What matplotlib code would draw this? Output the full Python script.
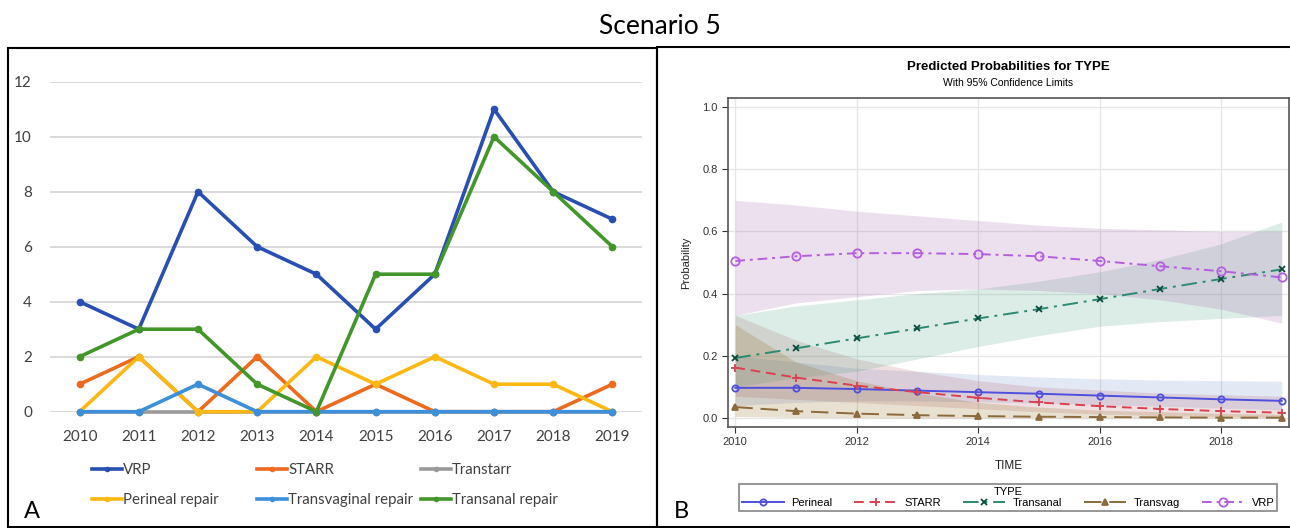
import matplotlib
matplotlib.use("Agg")
import matplotlib.pyplot as plt
from matplotlib.lines import Line2D
from matplotlib.patches import Rectangle

# ---- panel A: yearly counts by procedure ----
years = [2010, 2011, 2012, 2013, 2014, 2015, 2016, 2017, 2018, 2019]
vrp = [4, 3, 8, 6, 5, 3, 5, 11, 8, 7]
starr = [1, 2, 0, 2, 0, 1, 0, 0, 0, 1]
transtarr = [0, 0, 0, 0, 0, 0, 0, 0, 0, 0]
perineal_repair = [0, 2, 0, 0, 2, 1, 2, 1, 1, 0]
transvaginal_repair = [0, 0, 1, 0, 0, 0, 0, 0, 0, 0]
transanal_repair = [2, 3, 3, 1, 0, 5, 5, 10, 8, 6]
count_ticks = [0, 2, 4, 6, 8, 10, 12]

# ---- panel B: predicted probabilities with 95% limits ----
time = [2010, 2011, 2012, 2013, 2014, 2015, 2016, 2017, 2018, 2019]
p_perineal = [0.097, 0.097, 0.093, 0.088, 0.083, 0.078, 0.072, 0.066, 0.060, 0.055]
lo_perineal = [0.040, 0.050, 0.055, 0.055, 0.052, 0.048, 0.043, 0.038, 0.032, 0.026]
hi_perineal = [0.200, 0.180, 0.160, 0.150, 0.140, 0.132, 0.126, 0.122, 0.120, 0.118]
p_starr = [0.162, 0.130, 0.104, 0.083, 0.065, 0.050, 0.038, 0.029, 0.022, 0.017]
lo_starr = [0.070, 0.060, 0.050, 0.040, 0.030, 0.020, 0.013, 0.008, 0.005, 0.003]
hi_starr = [0.330, 0.250, 0.190, 0.150, 0.120, 0.100, 0.090, 0.080, 0.075, 0.070]
p_transanal = [0.193, 0.224, 0.256, 0.288, 0.320, 0.350, 0.382, 0.415, 0.447, 0.478]
lo_transanal = [0.100, 0.130, 0.150, 0.190, 0.230, 0.265, 0.295, 0.310, 0.320, 0.330]
hi_transanal = [0.330, 0.360, 0.380, 0.400, 0.415, 0.440, 0.470, 0.510, 0.560, 0.630]
p_transvag = [0.035, 0.022, 0.014, 0.009, 0.006, 0.004, 0.003, 0.002, 0.001, 0.001]
lo_transvag = [0.005, 0.002, 0.001, 0.0, 0.0, 0.0, 0.0, 0.0, 0.0, 0.0]
hi_transvag = [0.300, 0.180, 0.120, 0.080, 0.050, 0.035, 0.025, 0.020, 0.015, 0.012]
p_vrp = [0.505, 0.520, 0.530, 0.530, 0.527, 0.520, 0.505, 0.488, 0.472, 0.452]
lo_vrp = [0.330, 0.370, 0.390, 0.410, 0.415, 0.410, 0.400, 0.380, 0.350, 0.305]
hi_vrp = [0.700, 0.685, 0.665, 0.650, 0.635, 0.620, 0.610, 0.605, 0.600, 0.600]
prob_ticks = [0.0, 0.2, 0.4, 0.6, 0.8, 1.0]
time_ticks = [2010, 2012, 2014, 2016, 2018]

W, H = 1290, 528
fig = plt.figure(figsize=(W / 100, H / 100), dpi=100)


def fx(px):
    return px / W


def fy(py):
    return 1 - py / H


fig.text(fx(660), fy(27), "Scenario 5", family="Lato", fontsize=19,
         ha="center", va="center")

# panel frames
fig.add_artist(Rectangle((fx(8), fy(527)), fx(649), fy(48) - fy(527),
                         transform=fig.transFigure, fill=False, lw=1.5,
                         ec="black"))
fig.add_artist(Rectangle((fx(657), fy(527)), fx(640), fy(47) - fy(527),
                         transform=fig.transFigure, fill=False, lw=1.5,
                         ec="black"))

# ---------------- panel A ----------------
axa = fig.add_axes([fx(50), fy(411.7), fx(592), fy(81.7) - fy(411.7)])
series_a = [
    (vrp, "VRP", "#2a4fb4"),
    (starr, "STARR", "#ed6a1f"),
    (transtarr, "Transtarr", "#9a9a9a"),
    (perineal_repair, "Perineal repair", "#fdb813"),
    (transvaginal_repair, "Transvaginal repair", "#3c8fd8"),
    (transanal_repair, "Transanal repair", "#43962a"),
]
handles = []
for vals, name, col in series_a:
    h, = axa.plot(years, vals, color=col, lw=2.6, marker="o", ms=4.5,
                  label=name, clip_on=False, solid_joinstyle="round")
    handles.append(h)

axa.set_xlim(2009.5, 2019.5)
axa.set_ylim(0, 12)
axa.set_yticks(count_ticks)
axa.set_xticks(years)
axa.grid(axis="y", color="#d4d4d4", lw=1.2)
axa.set_axisbelow(True)
for s in axa.spines.values():
    s.set_visible(False)
axa.tick_params(length=0, labelsize=11, labelcolor="#404040", pad=13)
for lab in axa.get_xticklabels() + axa.get_yticklabels():
    lab.set_family("Lato")

# legend laid out as three columns of two rows
legend_cols = [(88, [0, 3]), (253, [1, 4]), (417, [2, 5])]
for x0, idx in legend_cols:
    hs = [Line2D([], [], color=handles[i].get_color(), lw=2.6, marker="o",
                 ms=3) for i in idx]
    leg = fig.legend(hs, [handles[i].get_label() for i in idx],
                     loc="upper left", bbox_to_anchor=(fx(x0 - 4), fy(456)),
                     frameon=False, handlelength=2.0, handletextpad=0.1,
                     labelspacing=1.05, borderpad=0,
                     prop={"family": "Lato", "size": 10.8})
    for t in leg.get_texts():
        t.set_color("#404040")

fig.text(fx(32), fy(512), "A", family="Lato", fontsize=17,
         ha="center", va="center")

# ---------------- panel B ----------------
axb = fig.add_axes([fx(728), fy(427), fx(561), fy(98) - fy(427)])
series_b = [
    (p_perineal, lo_perineal, hi_perineal, "Perineal", "#4f4fdd", "#738ccd",
     "-", "o", "none", 4.5),
    (p_starr, lo_starr, hi_starr, "STARR", "#d9414f", "#b4646e",
     (0, (5, 3)), "+", "#d9414f", 6),
    (p_transanal, lo_transanal, hi_transanal, "Transanal", "#2c8a72",
     "#50a082", (0, (8, 3, 1.5, 3)), "x", "#0b4a3c", 5),
    (p_transvag, lo_transvag, hi_transvag, "Transvag", "#8b6b3d", "#8c6414",
     (0, (9, 4)), "^", "#8b6b3d", 4.5),
    (p_vrp, lo_vrp, hi_vrp, "VRP", "#b45ee0", "#a064af",
     (0, (5, 2.5, 1.5, 2.5)), "o", "none", 6),
]
for p, lo, hi, name, lc, fc, ls, mk, mfc, ms in series_b:
    axb.fill_between(time, lo, hi, color=fc, alpha=0.2, lw=0)
blines = []
for p, lo, hi, name, lc, fc, ls, mk, mfc, ms in series_b:
    mec = mfc if mfc != "none" else lc
    h, = axb.plot(time, p, color=lc, ls=ls, lw=1.4, marker=mk, ms=ms,
                  mfc=mfc, mec=mec, mew=1.3, label=name, clip_on=False)
    blines.append(h)

axb.set_xlim(2009.88, 2019.12)
axb.set_ylim(-0.029, 1.029)
axb.set_xticks(time_ticks)
axb.set_yticks(prob_ticks)
axb.set_yticklabels([f"{v:.1f}" for v in prob_ticks])
axb.grid(color="#e6e6e6", lw=1)
axb.set_axisbelow(True)
for s in axb.spines.values():
    s.set_color("#555555")
    s.set_linewidth(1.2)
axb.tick_params(labelsize=8, colors="#333333", length=4, width=0.8,
                direction="out")
for lab in axb.get_xticklabels() + axb.get_yticklabels():
    lab.set_family("Liberation Sans")
axb.set_xlabel("TIME", family="Liberation Sans", fontsize=8.5,
               color="#222222", labelpad=9)
axb.set_ylabel("Probability", family="Liberation Sans", fontsize=8,
               color="#222222", labelpad=8)

fig.text(fx(1008), fy(67), "Predicted Probabilities for TYPE",
         family="Liberation Sans", fontsize=9.5, fontweight="bold",
         ha="center", va="center")
fig.text(fx(1008), fy(83), "With 95% Confidence Limits",
         family="Liberation Sans", fontsize=7.5, ha="center", va="center")

legb = fig.legend(blines, [h.get_label() for h in blines], title="TYPE",
                  loc="center", bbox_to_anchor=(fx(1008), fy(497.5)),
                  ncol=5, frameon=True, fancybox=False, handlelength=3.8,
                  handletextpad=0.7, columnspacing=1.95, borderpad=0.25,
                  borderaxespad=0,
                  prop={"family": "Liberation Sans", "size": 8},
                  title_fontproperties={"family": "Liberation Sans",
                                        "size": 8})
legb.get_frame().set_edgecolor("#666666")
legb.get_frame().set_linewidth(1.2)
legb._legend_box.sep = 1

fig.text(fx(681), fy(512), "B", family="Lato", fontsize=17,
         ha="center", va="center")

fig.savefig("out.png", dpi=100)
